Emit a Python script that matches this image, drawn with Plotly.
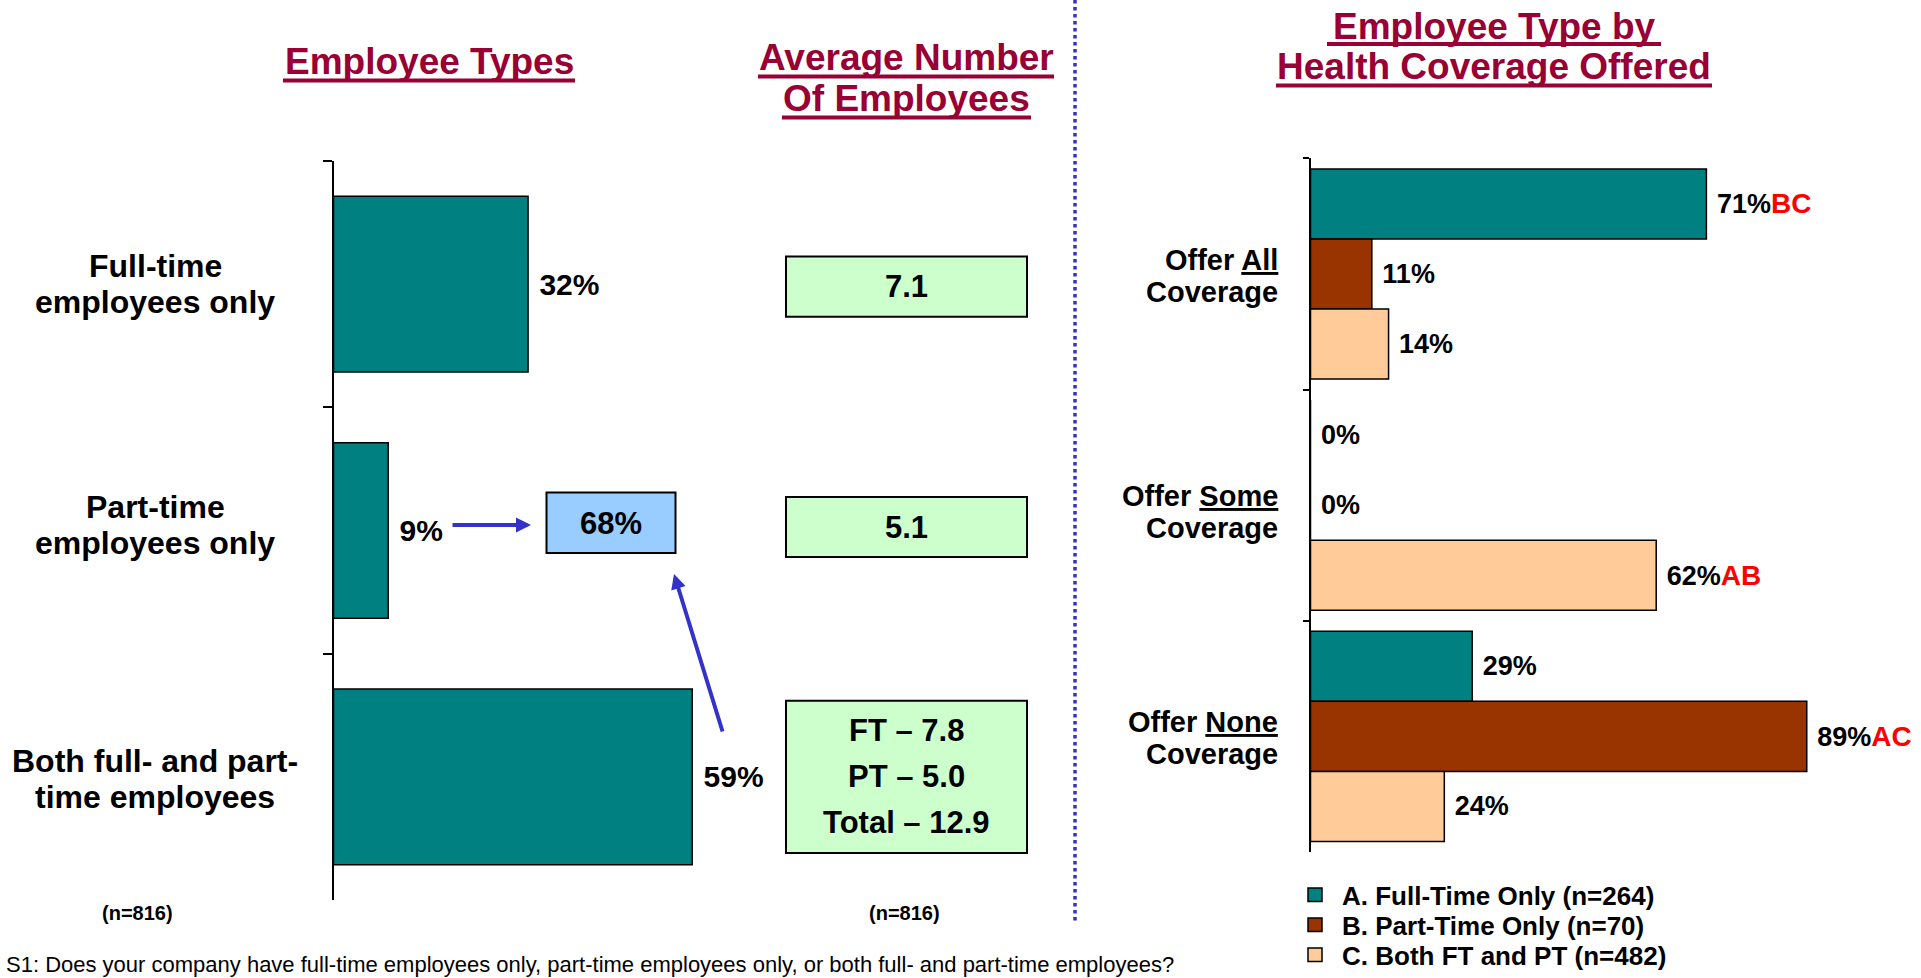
import plotly.graph_objects as go

W, H = 1921, 978
FONT = "Liberation Sans, Arial, sans-serif"


def px(x):
    return x / W


def py(y):
    return 1 - y / H


# ---------------- data ----------------
emp_types = ["Full-time<br>employees only",
             "Part-time<br>employees only",
             "Both full- and part-<br>time employees"]
emp_pct = [32, 9, 59]
avg_employees = [["7.1"], ["5.1"], ["FT – 7.8", "PT – 5.0", "Total – 12.9"]]
pt_share_pct = 68
n_left = "(n=816)"
n_mid = "(n=816)"

coverage_cats = ["Offer <u>All</u><br>Coverage",
                 "Offer <u>Some</u><br>Coverage",
                 "Offer <u>None</u><br>Coverage"]
series_names = ["A. Full-Time Only (n=264)",
                "B. Part-Time Only (n=70)",
                "C. Both FT and PT (n=482)"]
series_values = [[71, 0, 29], [11, 0, 89], [14, 62, 24]]
series_sig = [["BC", "", ""], ["", "", "AC"], ["", "AB", ""]]
series_colors = ["#008080", "#993300", "#FFCC99"]

titles = {
    "left": ["Employee Types"],
    "mid": ["Average Number", "Of Employees"],
    "right": ["Employee Type by ", "Health Coverage Offered"],
}
footnote = ("S1: Does your company have full-time employees only, part-time employees only, "
            "or both full- and part-time employees?")

TITLE_COLOR = "#990033"
ARROW_COLOR = "#3333CC"

# small per-row label nudges in pixels (layout styling only)
left_label_nudge = [0, 6, -2]
right_label_nudge = [0, -5, 0]
box_nudge_px = [2.5, -3.5, 0]
CAT_PX = (900 - 161) / 3.0

fig = go.Figure()

# ---------------- left chart: employee types ----------------
fig.add_trace(go.Bar(
    x=emp_pct, y=emp_types, orientation="h", xaxis="x", yaxis="y",
    width=0.713,
    marker=dict(color="#008080", line=dict(color="black", width=1.5)),
    text=[f"\u00a0{v}%" for v in emp_pct], textposition="outside",
    textfont=dict(size=30, color="black", family=FONT, weight="bold"),
    constraintext="none", cliponaxis=False, showlegend=False, hoverinfo="skip",
))

# ---------------- right chart: coverage ----------------
slot = 0.303
for k, (name, vals, sigs, col) in enumerate(zip(series_names, series_values, series_sig, series_colors)):
    fig.add_trace(go.Bar(
        x=vals, y=coverage_cats, orientation="h", xaxis="x2", yaxis="y2", name=name,
        width=slot, offset=-1.5 * slot + k * slot,
        marker=dict(color=col, line=dict(color="black", width=1.5)),
        text=[f"\u00a0{v}%<span style='color:#FF0000;font-size:28px'>{s}</span>" for v, s in zip(vals, sigs)],
        textposition="outside",
        textfont=dict(size=27, color="black", family=FONT, weight="bold"),
        constraintext="none", cliponaxis=False, hoverinfo="skip", showlegend=False,
    ))

annotations = []
shapes = []

# left category labels (centered lines)
for cat, nud in zip(emp_types, left_label_nudge):
    lines = cat.split("<br>")
    n = len(lines)
    for i, ln in enumerate(lines):
        annotations.append(dict(
            x=px(155), xref="paper", y=cat, yref="y", text=ln, showarrow=False,
            xanchor="center", yanchor="middle", yshift=(n - 1) / 2 * 36 - i * 36 + nud,
            font=dict(size=32, family=FONT, color="black", weight="bold")))

# right category labels (right aligned lines)
for cat, nud in zip(coverage_cats, right_label_nudge):
    lines = cat.split("<br>")
    n = len(lines)
    for i, ln in enumerate(lines):
        annotations.append(dict(
            x=px(1280), xref="paper", y=cat, yref="y2", text=ln, showarrow=False,
            xanchor="right", yanchor="middle", yshift=(n - 1) / 2 * 32 - i * 32 - 2 + nud,
            font=dict(size=29, family=FONT, color="black", weight="bold")))

# average-number boxes aligned to left categories
box_half = [0.122, 0.122, 0.309]
for cat_i, (cat, lines, hh, nud) in enumerate(zip(emp_types, avg_employees, box_half, box_nudge_px)):
    c = cat_i + nud / CAT_PX
    shapes.append(dict(type="rect", xref="paper", yref="y",
                       x0=px(786), x1=px(1027), y0=c - hh, y1=c + hh,
                       fillcolor="#CCFFCC", line=dict(color="black", width=2), layer="below"))
    n = len(lines)
    for i, ln in enumerate(lines):
        annotations.append(dict(
            x=px(906.5), xref="paper", y=cat, yref="y", text=ln, showarrow=False,
            xanchor="center", yanchor="middle", yshift=(n - 1) / 2 * 46 - i * 46 - nud,
            font=dict(size=31, family=FONT, color="black", weight="bold")))

# 68% callout box and arrows
shapes.append(dict(type="rect", xref="paper", yref="paper",
                   x0=px(546.5), x1=px(675.5), y0=py(553), y1=py(492.5),
                   fillcolor="#99CCFF", line=dict(color="black", width=2)))
annotations.append(dict(x=px(611), y=py(523), xref="paper", yref="paper",
                        text=f"{pt_share_pct}%", showarrow=False, xanchor="center", yanchor="middle",
                        font=dict(size=31, family=FONT, color="black", weight="bold")))
annotations.append(dict(x=px(531), y=py(525), xref="paper", yref="paper", text="",
                        showarrow=True, arrowhead=2, arrowsize=0.75, arrowwidth=4,
                        arrowcolor=ARROW_COLOR, ax=-80, ay=0))
annotations.append(dict(x=px(674), y=py(574), xref="paper", yref="paper", text="",
                        showarrow=True, arrowhead=2, arrowsize=0.75, arrowwidth=4,
                        arrowcolor=ARROW_COLOR, ax=49, ay=159))

# titles with thick underlines
title_specs = [
    (titles["left"], 429, [61.5], [(283, 575, 80.5)]),
    (titles["mid"], 906, [57, 99], [(758, 1054, 76.5), (782, 1031, 117.5)]),
    (titles["right"], 1494, [26, 67], [(1327, 1661, 44), (1276, 1712, 85.5)]),
]
for lines, cx, ys, ulines in title_specs:
    for ln, yy in zip(lines, ys):
        annotations.append(dict(x=px(cx), y=py(yy), xref="paper", yref="paper",
                                text=ln.rstrip(), showarrow=False, xanchor="center", yanchor="middle",
                                font=dict(size=37, family=FONT, color=TITLE_COLOR, weight="bold")))
    for x0, x1, yy in ulines:
        shapes.append(dict(type="line", xref="paper", yref="paper",
                           x0=px(x0), x1=px(x1), y0=py(yy), y1=py(yy),
                           line=dict(color=TITLE_COLOR, width=4)))

# sample sizes and footnote
for txt, cx in [(n_left, 137), (n_mid, 904)]:
    annotations.append(dict(x=px(cx), y=py(913), xref="paper", yref="paper", text=txt,
                            showarrow=False, xanchor="center", yanchor="middle",
                            font=dict(size=20, family=FONT, color="black", weight="bold")))
annotations.append(dict(x=px(4), y=py(964), xref="paper", yref="paper", text=footnote,
                        showarrow=False, xanchor="left", yanchor="middle",
                        font=dict(size=22, family=FONT, color="black")))

# legend (key for the coverage chart)
legend_rows = [896, 926, 956]
for name, col, yy in zip(series_names, series_colors, legend_rows):
    shapes.append(dict(type="rect", xref="paper", yref="paper",
                       x0=px(1308), x1=px(1322), y0=py(yy + 5.5), y1=py(yy - 8),
                       fillcolor=col, line=dict(color="black", width=1.5)))
    annotations.append(dict(x=px(1340), y=py(yy), xref="paper", yref="paper", text=name,
                            showarrow=False, xanchor="left", yanchor="middle",
                            font=dict(size=26, family=FONT, color="black", weight="bold")))

# dotted divider
shapes.append(dict(type="line", xref="paper", yref="paper", x0=px(1075), x1=px(1075),
                   y0=py(0), y1=py(921), line=dict(color=ARROW_COLOR, width=3.5, dash="dot")))

axis_common = dict(showline=True, linecolor="black", linewidth=1.5, ticks="outside",
                   tickwidth=1.5, tickcolor="black", tickson="boundaries",
                   showticklabels=False, showgrid=False, zeroline=False,
                   autorange="reversed", fixedrange=True)

fig.update_layout(
    width=W, height=H, margin=dict(l=0, r=0, t=0, b=0),
    paper_bgcolor="white", plot_bgcolor="rgba(0,0,0,0)",
    font=dict(family=FONT, color="black"),
    barmode="overlay", showlegend=False,
    xaxis=dict(domain=[px(333.5), px(941.5)], range=[0, 100], visible=False, anchor="y", fixedrange=True),
    yaxis=dict(domain=[py(900), py(161)], anchor="x", ticklen=9,
               categoryorder="array", categoryarray=emp_types, **axis_common),
    xaxis2=dict(domain=[px(1310.5), px(1868.1)], range=[0, 100], visible=False, anchor="y2", fixedrange=True),
    yaxis2=dict(domain=[py(852), py(158.4)], anchor="x2", ticklen=6,
                categoryorder="array", categoryarray=coverage_cats, **axis_common),
    annotations=annotations, shapes=shapes,
)

post = (
    "var de=document.documentElement, b=document.body;"
    "[de,b].forEach(function(e){e.style.margin='0';e.style.padding='0';"
    "e.style.overflow='hidden';e.style.height='978px';});"
    "b.style.fontSize='0';b.style.lineHeight='0';"
    "var g=document.querySelector('.plotly-graph-div');"
    "if(g){g.style.overflow='hidden';if(g.parentNode){g.parentNode.style.height='978px';"
    "g.parentNode.style.overflow='hidden';}}"
)
fig.write_html("out.html", config={"displayModeBar": False}, post_script=post)
